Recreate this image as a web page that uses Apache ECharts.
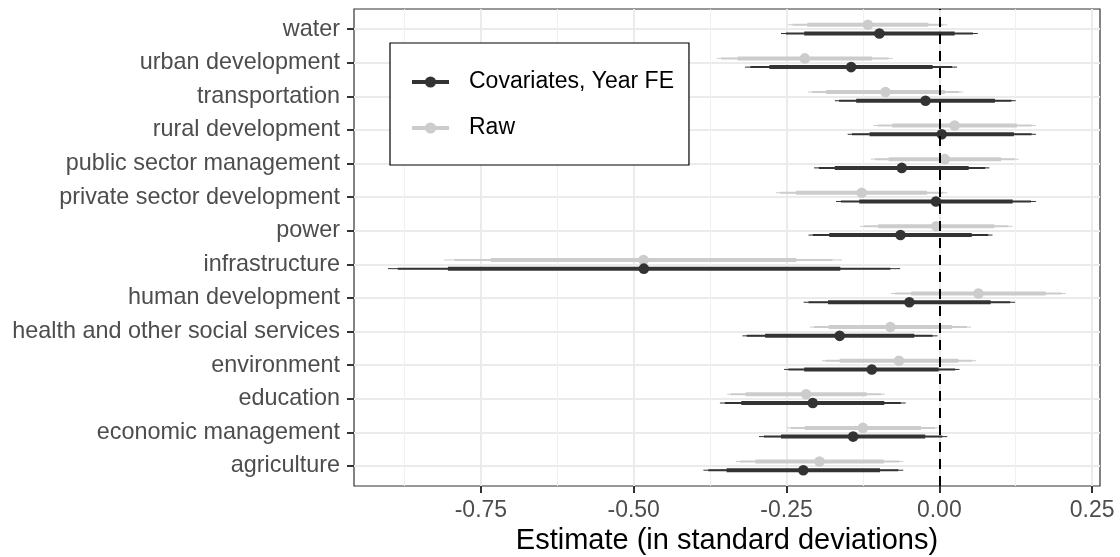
<!DOCTYPE html>
<html>
<head>
<meta charset="utf-8">
<script src="https://cdn.jsdelivr.net/npm/echarts@6/dist/echarts.min.js"></script>
<style>
  html, body { margin: 0; padding: 0; background: #ffffff; }
  #chart { width: 1120px; height: 557px; }
</style>
</head>
<body>
<div id="chart"></div>
<script>
// Sectors, bottom (index 0) to top
const categories = [
  'agriculture', 'economic management', 'education', 'environment',
  'health and other social services', 'human development', 'infrastructure',
  'power', 'private sector development', 'public sector management',
  'rural development', 'transportation', 'urban development', 'water'
];

const xTicks = [-0.75, -0.5, -0.25, 0, 0.25];
const xMinorTicks = [-0.875, -0.625, -0.375, -0.125, 0.125];

// Raw estimates and their intervals (outer / middle / inner)
const rawEstimate = [-0.196, -0.125, -0.218, -0.066, -0.080, 0.064, -0.484, -0.005, -0.127, 0.009, 0.025, -0.088, -0.220, -0.117];
const rawOuter = [[-0.333, -0.059], [-0.249, -0.001], [-0.347, -0.089], [-0.192, 0.060], [-0.212, 0.052], [-0.079, 0.207], [-0.810, -0.159], [-0.130, 0.120], [-0.267, 0.013], [-0.112, 0.130], [-0.108, 0.158], [-0.215, 0.039], [-0.364, -0.076], [-0.247, 0.013]];
const rawMiddle = [[-0.326, -0.066], [-0.243, -0.007], [-0.341, -0.095], [-0.186, 0.054], [-0.205, 0.045], [-0.072, 0.200], [-0.793, -0.175], [-0.123, 0.113], [-0.260, 0.006], [-0.105, 0.123], [-0.101, 0.151], [-0.208, 0.032], [-0.357, -0.083], [-0.240, 0.006]];
const rawInner = [[-0.301, -0.091], [-0.220, -0.030], [-0.317, -0.119], [-0.163, 0.031], [-0.181, 0.021], [-0.046, 0.174], [-0.734, -0.234], [-0.100, 0.090], [-0.234, -0.020], [-0.083, 0.101], [-0.077, 0.127], [-0.185, 0.009], [-0.330, -0.110], [-0.216, -0.018]];

// Estimates with covariates and year fixed effects
const covEstimate = [-0.2225, -0.141, -0.207, -0.1105, -0.163, -0.049, -0.4834, -0.0635, -0.0055, -0.0614, 0.004, -0.0226, -0.1443, -0.098];
const covOuter = [[-0.386, -0.059], [-0.295, 0.013], [-0.359, -0.055], [-0.254, 0.033], [-0.322, -0.003], [-0.222, 0.124], [-0.902, -0.064], [-0.214, 0.087], [-0.169, 0.158], [-0.205, 0.082], [-0.150, 0.158], [-0.171, 0.125], [-0.318, 0.029], [-0.259, 0.063]];
const covMiddle = [[-0.378, -0.067], [-0.287, 0.005], [-0.351, -0.063], [-0.247, 0.026], [-0.315, -0.011], [-0.214, 0.116], [-0.886, -0.080], [-0.207, 0.080], [-0.161, 0.150], [-0.197, 0.075], [-0.143, 0.151], [-0.164, 0.118], [-0.309, 0.021], [-0.251, 0.055]];
const covInner = [[-0.348, -0.097], [-0.259, -0.023], [-0.324, -0.090], [-0.221, -0.001], [-0.285, -0.041], [-0.182, 0.084], [-0.804, -0.162], [-0.180, 0.053], [-0.131, 0.120], [-0.171, 0.048], [-0.114, 0.122], [-0.136, 0.091], [-0.278, -0.011], [-0.221, 0.025]];

const COV_COLOR = '#333333';
const RAW_COLOR = '#cccccc';
const FONT = '"Liberation Sans", Arial, Helvetica, sans-serif';

function buildRows(est, outer, middle, inner) {
  return categories.map((c, i) => [i, est[i], outer[i][0], outer[i][1], middle[i][0], middle[i][1], inner[i][0], inner[i][1]]);
}

// Draws one point-interval: thin outer, medium middle, thick inner segment and a dot
function makeRenderer(color, dodge) {
  return function (params, api) {
    const y = api.value(0) + dodge;
    const seg = (lo, hi, w) => {
      const a = api.coord([api.value(lo), y]);
      const b = api.coord([api.value(hi), y]);
      return { type: 'line', shape: { x1: a[0], y1: a[1], x2: b[0], y2: b[1] },
               style: { stroke: color, lineWidth: w, lineCap: 'butt' } };
    };
    const c = api.coord([api.value(1), y]);
    return {
      type: 'group',
      children: [
        seg(2, 3, 1),
        seg(4, 5, 2),
        seg(6, 7, 4),
        { type: 'circle', shape: { cx: c[0], cy: c[1], r: 5.3 }, style: { fill: color } }
      ]
    };
  };
}

const chart = echarts.init(document.getElementById('chart'), null, { renderer: 'canvas' });

const option = {
  backgroundColor: '#ffffff',
  animation: false,
  textStyle: { fontFamily: FONT },
  grid: {
    left: 354, right: 20, top: 9, bottom: 71,
    containLabel: false, outerBoundsMode: 'none',
    show: true, borderColor: '#333333', borderWidth: 1.2, backgroundColor: '#ffffff'
  },
  legend: {
    data: ['Covariates, Year FE', 'Raw'],
    orient: 'vertical',
    left: 390, top: 43,
    itemWidth: 37, itemHeight: 14, itemGap: 20,
    padding: [26, 15, 24, 20],
    borderColor: '#000000', borderWidth: 1.2, borderRadius: 0,
    backgroundColor: '#ffffff',
    selectedMode: false,
    lineStyle: { width: 4 },
    textStyle: { fontSize: 23, color: '#000000', fontFamily: FONT, lineHeight: 26, padding: [0, 0, 0, 15] }
  },
  xAxis: [
    {
      type: 'value', min: -0.9576, max: 0.2629,
      name: 'Estimate (in standard deviations)',
      nameLocation: 'middle', nameGap: 38,
      nameTextStyle: { fontSize: 29, color: '#000000', fontFamily: FONT },
      axisLine: { show: false, onZero: false },
      axisTick: { show: true, length: 7, customValues: xTicks, lineStyle: { color: '#333333', width: 2 } },
      axisLabel: { customValues: xTicks, margin: 13, fontSize: 23, color: '#4d4d4d', fontFamily: FONT,
                   formatter: v => v.toFixed(2) },
      splitLine: { show: true, lineStyle: { color: '#ebebeb', width: 2 } }
    },
    {
      type: 'value', min: -0.9576, max: 0.2629, position: 'bottom',
      axisLine: { show: false, onZero: false },
      axisTick: { show: false, customValues: xMinorTicks },
      axisLabel: { show: false },
      splitLine: { show: true, lineStyle: { color: '#f0f0f0', width: 1 } }
    }
  ],
  yAxis: {
    type: 'value', min: -0.6, max: 13.6,
    axisLine: { show: false, onZero: false },
    axisTick: { show: true, length: 7, customValues: categories.map((c, i) => i), lineStyle: { color: '#333333', width: 2 } },
    axisLabel: { customValues: categories.map((c, i) => i), margin: 14, fontSize: 23.4, color: '#4d4d4d', fontFamily: FONT,
                 formatter: v => categories[Math.round(v)] },
    splitLine: { show: true, lineStyle: { color: '#ebebeb', width: 2 } }
  },
  series: [
    { type: 'line', name: 'Covariates, Year FE', data: [], symbol: 'circle',
      lineStyle: { color: COV_COLOR, width: 4 }, itemStyle: { color: COV_COLOR } },
    { type: 'line', name: 'Raw', data: [], symbol: 'circle',
      lineStyle: { color: RAW_COLOR, width: 4 }, itemStyle: { color: RAW_COLOR } },
    {
      type: 'custom', name: 'Raw', xAxisIndex: 0, yAxisIndex: 0, z: 3,
      renderItem: makeRenderer(RAW_COLOR, 0.13),
      encode: { x: [1, 2, 3, 4, 5, 6, 7], y: 0 },
      data: buildRows(rawEstimate, rawOuter, rawMiddle, rawInner)
    },
    {
      type: 'custom', name: 'Covariates, Year FE', xAxisIndex: 0, yAxisIndex: 0, z: 4,
      renderItem: makeRenderer(COV_COLOR, -0.13),
      encode: { x: [1, 2, 3, 4, 5, 6, 7], y: 0 },
      data: buildRows(covEstimate, covOuter, covMiddle, covInner),
      markLine: {
        silent: true, symbol: 'none', label: { show: false },
        lineStyle: { color: '#000000', width: 2, type: [10, 7] },
        data: [{ xAxis: 0 }]
      }
    }
  ]
};

chart.setOption(option);
</script>
</body>
</html>
